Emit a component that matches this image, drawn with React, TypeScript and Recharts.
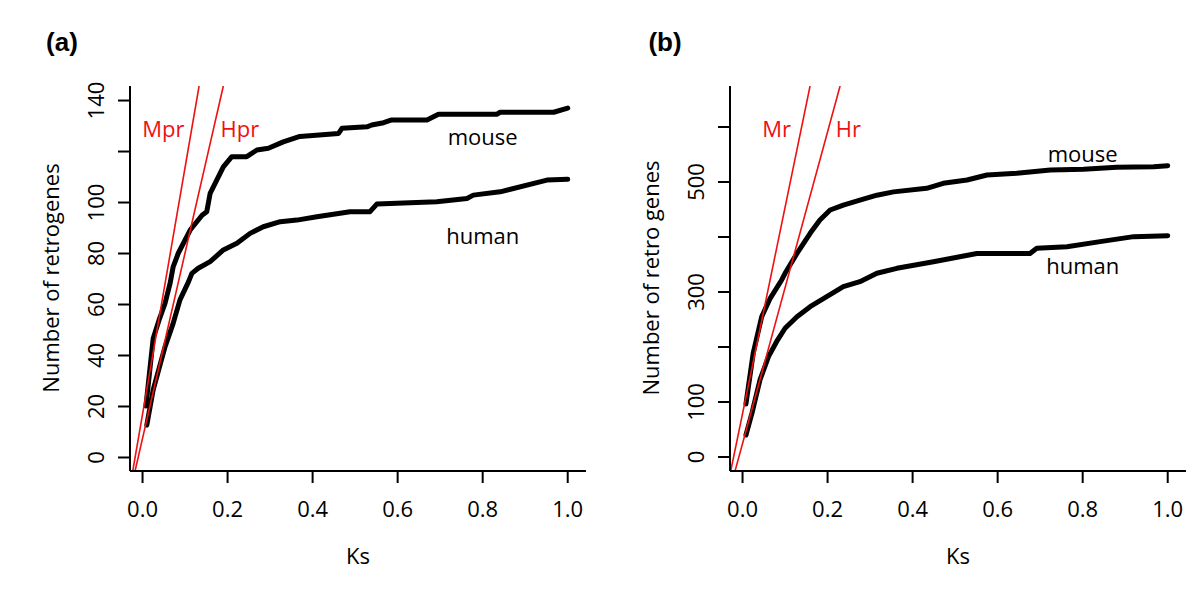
import React from "react";
import { LineChart, Line, XAxis, YAxis, ReferenceDot } from "recharts";

const FONT = "'Open Sans', 'DejaVu Sans', sans-serif";

const KS_TICKS = [0, 0.2, 0.4, 0.6, 0.8, 1.0];

// (a) retrogenes, [Ks, cumulative count]
const MOUSE_RETROGENES: [number, number][] = [
  [0.008, 20.2], [0.025, 46.7], [0.04, 54.5], [0.053, 60.5], [0.065, 68.5], [0.072, 74.8],
  [0.084, 80.1], [0.112, 89.2], [0.14, 95.0], [0.151, 96.4], [0.159, 103.6], [0.19, 114.0],
  [0.21, 118.0], [0.245, 118.0], [0.269, 120.6], [0.296, 121.3], [0.331, 123.8],
  [0.37, 125.9], [0.461, 127.1], [0.469, 129.1], [0.528, 129.7], [0.539, 130.4],
  [0.567, 131.3], [0.586, 132.4], [0.669, 132.4], [0.696, 134.6], [0.833, 134.6],
  [0.841, 135.4], [0.967, 135.4], [1.0, 137.0],
];
const HUMAN_RETROGENES: [number, number][] = [
  [0.01, 12.7], [0.025, 26.5], [0.053, 43.5], [0.072, 52.6], [0.088, 61.8],
  [0.108, 68.9], [0.116, 72.2], [0.131, 74.2], [0.159, 76.8], [0.19, 81.4],
  [0.222, 84.0], [0.253, 87.9], [0.284, 90.5], [0.324, 92.5], [0.363, 93.1],
  [0.41, 94.4], [0.488, 96.4], [0.535, 96.4], [0.551, 99.4], [0.692, 100.3],
  [0.763, 101.6], [0.778, 102.9], [0.841, 104.2], [0.951, 108.8], [1.0, 109.1],
];
const MPR_LINE: [number, number][] = [[-0.023, -5.3], [0.133, 145.7]];
const HPR_LINE: [number, number][] = [[-0.0176, -5.3], [0.19, 145.7]];
const RETROGENE_TICKS = [0, 20, 40, 60, 80, 100, 120, 140];
const RETROGENE_LABELS = [0, 20, 40, 60, 80, 100, 140];

// (b) retro genes, [Ks, cumulative count]
const MOUSE_RETRO_GENES: [number, number][] = [
  [0.008, 96.4], [0.025, 188.5], [0.045, 255], [0.065, 288.5], [0.092, 321.8],
  [0.1, 334], [0.128, 370], [0.159, 406.7], [0.182, 431], [0.206, 449],
  [0.237, 458], [0.276, 467], [0.316, 476], [0.355, 482], [0.433, 488.5],
  [0.472, 497.6], [0.528, 503.6], [0.575, 512.7], [0.645, 515.8], [0.724, 521.8],
  [0.802, 523], [0.88, 526.7], [0.967, 527.8], [1.0, 529.6],
];
const HUMAN_RETRO_GENES: [number, number][] = [
  [0.008, 40], [0.022, 79.4], [0.041, 140], [0.061, 182.4], [0.08, 209.6],
  [0.1, 234], [0.128, 255], [0.159, 273.3], [0.198, 291.5], [0.237, 309.6],
  [0.276, 318.7], [0.316, 334], [0.363, 343], [0.449, 355], [0.551, 370],
  [0.676, 370], [0.692, 379.5], [0.763, 382.4], [0.841, 391.5], [0.92, 400.6],
  [1.0, 402.4],
];
const MR_LINE: [number, number][] = [[-0.0278, -25.5], [0.1588, 674.5]];
const HR_LINE: [number, number][] = [[-0.0176, -25.5], [0.2294, 674.5]];
const RETRO_GENE_TICKS = [0, 100, 200, 300, 400, 500, 600];
const RETRO_GENE_LABELS = [0, 100, 300, 500];

const toPoints = (arr: [number, number][]) => arr.map(([ks, n]) => ({ ks, n }));

type Note = { ks: number; n: number; text: string; color: string };

type PanelProps = {
  yDomain: [number, number];
  yTicks: number[];
  yLabels: number[];
  mouse: [number, number][];
  human: [number, number][];
  redLines: [number, number][][];
  notes: Note[];
};

function KsTick({ x, y, payload }: any) {
  return (
    <text x={x} y={y + 25} textAnchor="middle" dominantBaseline="central"
      fontFamily={FONT} fontSize={22} fill="#000">
      {Number(payload.value).toFixed(1)}
    </text>
  );
}

function makeCountTick(labels: number[]) {
  return ({ x, y, payload }: any) => {
    if (!labels.includes(payload.value)) return <g />;
    const cx = x - 23;
    return (
      <text x={cx} y={y} transform={`rotate(-90 ${cx} ${y})`} textAnchor="middle"
        dominantBaseline="central" fontFamily={FONT} fontSize={22} fill="#000">
        {payload.value}
      </text>
    );
  };
}

function Panel({ yDomain, yTicks, yLabels, mouse, human, redLines, notes }: PanelProps) {
  return (
    <LineChart width={600} height={600}
      margin={{ top: 86, right: 14, left: 50, bottom: 69 }}>
      <XAxis type="number" dataKey="ks" domain={[-0.0295, 1.043]} ticks={KS_TICKS}
        allowDataOverflow tick={<KsTick />} tickSize={12} tickMargin={0} height={60}
        axisLine={{ stroke: "#000", strokeWidth: 2 }}
        tickLine={{ stroke: "#000", strokeWidth: 2 }} />
      <YAxis type="number" dataKey="n" domain={yDomain} ticks={yTicks}
        allowDataOverflow tick={makeCountTick(yLabels)} tickSize={12} tickMargin={0} width={80}
        axisLine={{ stroke: "#000", strokeWidth: 2 }}
        tickLine={{ stroke: "#000", strokeWidth: 2 }} />
      <Line data={toPoints(mouse)} dataKey="n" type="linear" stroke="#000" strokeWidth={5}
        strokeLinecap="round" strokeLinejoin="round" dot={false} isAnimationActive={false} />
      <Line data={toPoints(human)} dataKey="n" type="linear" stroke="#000" strokeWidth={5}
        strokeLinecap="round" strokeLinejoin="round" dot={false} isAnimationActive={false} />
      {redLines.map((l, i) => (
        <Line key={i} data={toPoints(l)} dataKey="n" type="linear" stroke="#ee1111"
          strokeWidth={1.6} dot={false} isAnimationActive={false} />
      ))}
      {notes.map((t) => (
        <ReferenceDot key={t.text} x={t.ks} y={t.n} r={0} fill="none" stroke="none"
          label={{ value: t.text, position: "center", fill: t.color, fontSize: 22, fontFamily: FONT }} />
      ))}
    </LineChart>
  );
}

export default function App() {
  const title = (x: number, y: number, s: string) => (
    <text x={x} y={y} textAnchor="middle" dominantBaseline="central"
      fontFamily="'Liberation Sans', Arial, sans-serif" fontWeight="bold" fontSize={26}>{s}</text>
  );
  const yTitle = (x: number, s: string) => (
    <text x={x} y={278} transform={`rotate(-90 ${x} 278)`} textAnchor="middle"
      dominantBaseline="central" fontFamily={FONT} fontSize={22}>{s}</text>
  );
  return (
    <div style={{ position: "absolute", left: 0, top: 0, width: 1200, height: 600, background: "#fff" }}>
      <div style={{ position: "absolute", left: 0, top: 0 }}>
        <Panel yDomain={[-5.3, 145.7]} yTicks={RETROGENE_TICKS} yLabels={RETROGENE_LABELS}
          mouse={MOUSE_RETROGENES} human={HUMAN_RETROGENES} redLines={[MPR_LINE, HPR_LINE]}
          notes={[
            { ks: 0.049, n: 128.7, text: "Mpr", color: "#ee1111" },
            { ks: 0.229, n: 128.7, text: "Hpr", color: "#ee1111" },
            { ks: 0.8, n: 125.6, text: "mouse", color: "#000" },
            { ks: 0.8, n: 86.6, text: "human", color: "#000" },
          ]} />
      </div>
      <div style={{ position: "absolute", left: 600, top: 0 }}>
        <Panel yDomain={[-25.5, 674.5]} yTicks={RETRO_GENE_TICKS} yLabels={RETRO_GENE_LABELS}
          mouse={MOUSE_RETRO_GENES} human={HUMAN_RETRO_GENES} redLines={[MR_LINE, HR_LINE]}
          notes={[
            { ks: 0.08, n: 595.8, text: "Mr", color: "#ee1111" },
            { ks: 0.249, n: 595.8, text: "Hr", color: "#ee1111" },
            { ks: 0.8, n: 551, text: "mouse", color: "#000" },
            { ks: 0.8, n: 346, text: "human", color: "#000" },
          ]} />
      </div>
      <svg width={1200} height={600} style={{ position: "absolute", left: 0, top: 0, pointerEvents: "none" }}>
        {title(62, 42, "(a)")}
        {title(665, 42, "(b)")}
        {yTitle(50, "Number of retrogenes")}
        {yTitle(650, "Number of retro genes")}
        <text x={358} y={555} textAnchor="middle" dominantBaseline="central" fontFamily={FONT} fontSize={22}>Ks</text>
        <text x={958} y={555} textAnchor="middle" dominantBaseline="central" fontFamily={FONT} fontSize={22}>Ks</text>
      </svg>
    </div>
  );
}
